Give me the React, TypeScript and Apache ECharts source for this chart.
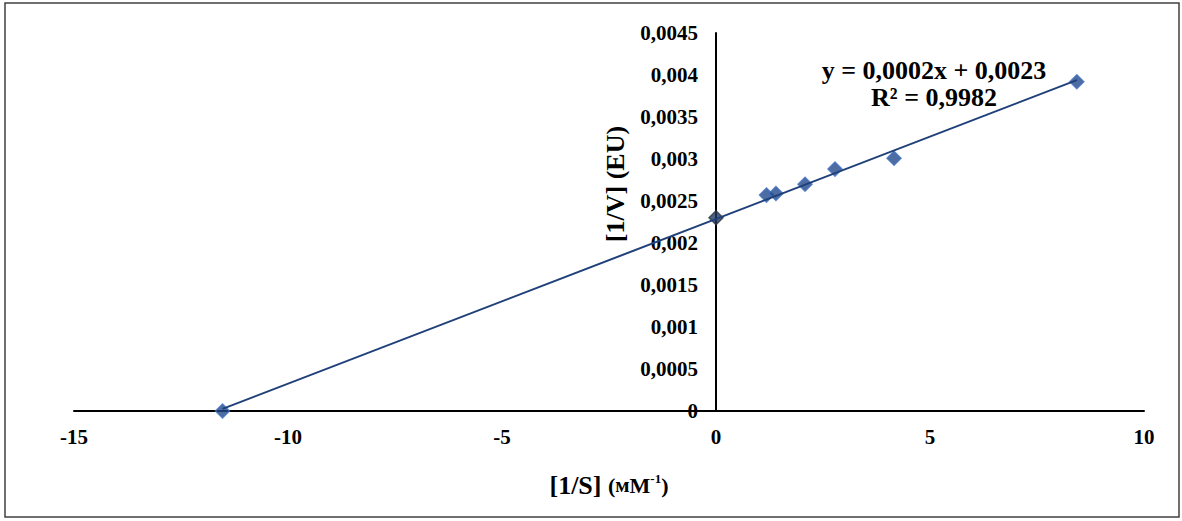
import React, { useEffect, useRef } from "react";
import * as echarts from "echarts";

// Experimental points: [1/S] (mM^-1) and [1/V] (EU)
const sValues = [-11.53, 1.18, 1.4, 2.08, 2.78, 4.16, 8.43];
const vValues = [0, 0.00257, 0.00259, 0.0027, 0.00288, 0.00301, 0.00392];
// y-intercept point
const interceptS = [0];
const interceptV = [0.0023];

const xTicks = { min: -15, max: 10, interval: 5 };
const yTicks = { min: 0, max: 0.0045, interval: 0.0005 };

const equationLines = ["y = 0,0002x + 0,0023", "R² = 0,9982"];

const FONT = '"Liberation Serif", "Times New Roman", serif';

const GRID = { left: 74, right: 38, top: 33, bottom: 110 };
const WIDTH = 1182;
const HEIGHT = 521;

function fitLine(xs: number[], ys: number[]) {
  const n = xs.length;
  const mx = xs.reduce((a, b) => a + b, 0) / n;
  const my = ys.reduce((a, b) => a + b, 0) / n;
  let sxy = 0;
  let sxx = 0;
  for (let i = 0; i < n; i++) {
    sxy += (xs[i] - mx) * (ys[i] - my);
    sxx += (xs[i] - mx) * (xs[i] - mx);
  }
  const slope = sxy / sxx;
  const intercept = my - slope * mx;
  const x0 = Math.min(...xs);
  const x1 = Math.max(...xs);
  return [
    [x0, intercept + slope * x0],
    [x1, intercept + slope * x1],
  ];
}

export default function App() {
  const ref = useRef<HTMLDivElement>(null);

  useEffect(() => {
    if (!ref.current) return;
    const chart = echarts.init(ref.current, undefined, { renderer: "svg" });
    const points = sValues.map((s, i) => [s, vValues[i]]);
    const intercept = interceptS.map((s, i) => [s, interceptV[i]]);
    const trend = fitLine(sValues, vValues);

    // place the y axis (line + labels) at x = 0 of the x axis
    const plotW = WIDTH - GRID.left - GRID.right;
    const zeroOffset =
      ((0 - xTicks.min) / (xTicks.max - xTicks.min)) * plotW;

    chart.setOption({
      animation: false,
      backgroundColor: "#ffffff",
      textStyle: { fontFamily: FONT },
      grid: { ...GRID, containLabel: false },
      xAxis: {
        type: "value",
        min: xTicks.min,
        max: xTicks.max,
        interval: xTicks.interval,
        axisLine: { onZero: true, lineStyle: { color: "#000", width: 2 } },
        axisTick: { show: false },
        splitLine: { show: false },
        axisLabel: {
          color: "#000",
          fontFamily: FONT,
          fontWeight: "bold",
          fontSize: 21,
          margin: 15,
        },
        name: "{a|[1/S]}{s| }{b|(}{c|м}{b|М}{d|-1}{b|)}",
        nameLocation: "middle",
        nameGap: 61,
        nameTextStyle: {
          rich: {
            a: { fontFamily: FONT, fontWeight: "bold", fontSize: 26, color: "#000" },
            s: { fontFamily: FONT, fontWeight: "bold", fontSize: 26, color: "#000" },
            b: { fontFamily: FONT, fontWeight: "bold", fontSize: 22, color: "#000" },
            c: { fontFamily: FONT, fontWeight: "bold", fontSize: 21, color: "#000" },
            d: {
              fontFamily: FONT,
              fontWeight: "bold",
              fontSize: 13,
              color: "#000",
              verticalAlign: "top",
            },
          },
        },
      },
      yAxis: {
        type: "value",
        min: yTicks.min,
        max: yTicks.max,
        interval: yTicks.interval,
        position: "left",
        offset: -zeroOffset,
        axisLine: { onZero: false, lineStyle: { color: "#000", width: 2 } },
        axisTick: { show: false },
        splitLine: { show: false },
        axisLabel: {
          color: "#000",
          fontFamily: FONT,
          fontWeight: "bold",
          fontSize: 21,
          margin: 18,
          formatter: (v: number) =>
            v === 0 ? "0" : parseFloat(v.toFixed(4)).toString().replace(".", ","),
        },
      },
      series: [
        {
          type: "scatter",
          data: points,
          symbol: "diamond",
          symbolSize: 14,
          itemStyle: { color: "#22478a", borderColor: "#3f6fc0", borderWidth: 1.5 },
          z: 2,
        },
        {
          type: "scatter",
          data: intercept,
          symbol: "diamond",
          symbolSize: 14,
          itemStyle: { color: "#1f3864", borderColor: "#2f3540", borderWidth: 1.5 },
          z: 2,
        },
        {
          type: "line",
          data: trend,
          symbol: "none",
          lineStyle: { color: "#1f4079", width: 2 },
          z: 3,
        },
      ],
      graphic: [
        {
          type: "rect",
          shape: { x: 5, y: 3, width: 1174, height: 514 },
          style: { fill: "none", stroke: "#404040", lineWidth: 1.5 },
          silent: true,
        },
        {
          type: "text",
          x: 615,
          y: 184,
          rotation: Math.PI / 2,
          style: {
            text: "[1/V] (EU)",
            fontFamily: FONT,
            fontWeight: "bold",
            fontSize: 26,
            fill: "#000",
            textAlign: "center",
            textVerticalAlign: "middle",
          },
        },
        {
          type: "text",
          x: 934,
          y: 84,
          style: {
            text: equationLines.join("\n"),
            fontFamily: FONT,
            fontWeight: "bold",
            fontSize: 26,
            lineHeight: 27,
            fill: "#000",
            textAlign: "center",
            textVerticalAlign: "middle",
          },
        },
      ],
    });

    return () => chart.dispose();
  }, []);

  return (
    <div
      ref={ref}
      style={{ position: "absolute", left: 0, top: 0, width: WIDTH, height: HEIGHT }}
    />
  );
}
